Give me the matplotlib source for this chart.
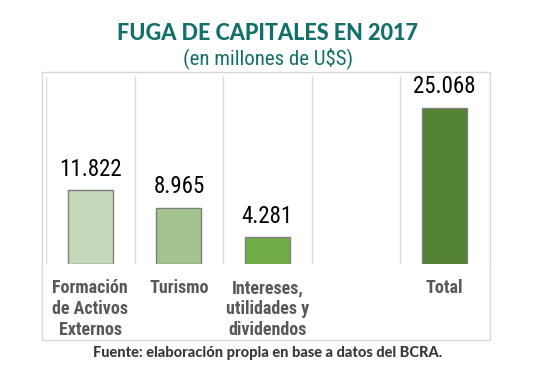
import matplotlib
matplotlib.use("Agg")
import matplotlib.pyplot as plt
from matplotlib import font_manager
from matplotlib.patches import Rectangle
import numpy as np

categories = ["Formación\nde Activos\nExternos", "Turismo",
              "Intereses,\nutilidades y\ndividendos", "", "Total"]
values = [11822, 8965, 4281, np.nan, 25068]
value_labels = ["11.822", "8.965", "4.281", "", "25.068"]
bar_colors = ["#c5d8b9", "#a3c48e", "#70ad47", "#ffffff", "#548235"]

title = "FUGA DE CAPITALES EN 2017"
subtitle = "(en millones de U$S)"
source = "Fuente: elaboración propia en base a datos del BCRA."

available = {f.name for f in font_manager.fontManager.ttflist}


def pick(*names):
    for n in names:
        if n in available:
            return n
    return "DejaVu Sans"


narrow = pick("Roboto Condensed", "Liberation Sans Narrow", "Roboto")
heavy = pick("Lato", "Open Sans", "Roboto")

fig = plt.figure(figsize=(5.48, 3.73), dpi=100)
ax = fig.add_axes([46 / 548, 1 - 264 / 373, 443 / 548, 187 / 373])

x = np.arange(len(categories))
ax.bar(x, values, width=0.51, color=bar_colors, edgecolor="#7f7f7f", linewidth=1.0, zorder=3)

for xi, v, lab in zip(x, values, value_labels):
    if np.isnan(v):
        continue
    ax.annotate(lab, (xi, v), xytext=(0, 7), textcoords="offset points",
                ha="center", va="bottom", fontsize=16.5, family=narrow, color="#000000")

ax.set_xlim(-0.5, len(categories) - 0.5)
ax.set_ylim(0, 30000)
for b in np.arange(-0.5, len(categories), 1.0):
    ax.axvline(b, color="#d9d9d9", linewidth=1.0, zorder=1)

ax.set_xticks(x)
ax.set_xticklabels(categories, fontsize=13, fontweight="bold", family=narrow,
                   color="#595959", linespacing=1.22, va="top")
ax.tick_params(axis="x", length=0, pad=11)
ax.set_yticks([])
for s in ax.spines.values():
    s.set_visible(False)

# outer frame
fig.patches.append(Rectangle((42 / 548, 1 - 340 / 373), 448 / 548, 268 / 373,
                             transform=fig.transFigure, fill=False,
                             edgecolor="#d9d9d9", linewidth=1.0))

fig.text(267 / 548, 1 - 33.5 / 373, title, ha="center", va="center", fontsize=15.6,
         fontweight="black", family=heavy, color="#127069")
fig.text(268 / 548, 1 - 58 / 373, subtitle, ha="center", va="center", fontsize=15,
         family=narrow, color="#127069")
fig.text(268 / 548, 1 - 353 / 373, source, ha="center", va="center", fontsize=10.5,
         fontweight="black", family=heavy, color="#3a3a3a")

fig.savefig("out.png", dpi=100)
